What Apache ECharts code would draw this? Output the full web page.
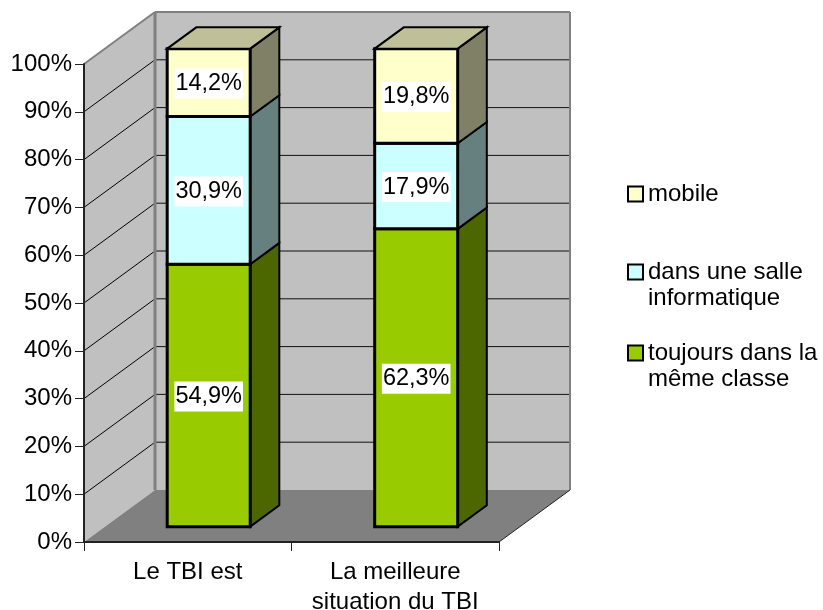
<!DOCTYPE html>
<html>
<head>
<meta charset="utf-8">
<script src="https://cdn.jsdelivr.net/npm/echarts@6/dist/echarts.min.js"></script>
<style>
  html, body { margin: 0; background: #fff; }
  #chart { width: 823px; height: 610px; }
</style>
</head>
<body>
<div id="chart"></div>
<script>
var categories = ['Le TBI est', 'La meilleure\nsituation du TBI']
var seriesNames = ['toujours dans la\nmême classe', 'dans une salle\ninformatique', 'mobile']
var toujours = [54.9, 62.3]
var salle = [30.9, 17.9]
var mobile = [14.2, 19.8]
var ticks = [0, 10, 20, 30, 40, 50, 60, 70, 80, 90, 100]

var FONT_SIZE = 24
var DEPTH = [71, -52] // profondeur du plancher en pixels
var BAR_W = 0.4 // largeur de barre / largeur de categorie
var BAR_D0 = 0.295 // debut de la barre dans la profondeur
var BAR_D1 = 0.705 // fin de la barre

var colors = [
  { front: '#99CC00', side: '#4C6600', top: '#80A000' },
  { front: '#CCFFFF', side: '#668080', top: '#A3CCCC' },
  { front: '#FFFFCC', side: '#808066', top: '#BFBF99' }
]

function poly(points, fill, stroke, lineWidth) {
  return {
    type: 'polygon',
    shape: { points: points },
    style: { fill: fill, stroke: stroke || null, lineWidth: lineWidth || 0, lineJoin: 'miter' }
  }
}

function line(x1, y1, x2, y2, color, w) {
  return {
    type: 'line',
    shape: { x1: x1, y1: y1, x2: x2, y2: y2 },
    style: { stroke: color, lineWidth: w }
  }
}

// murs et plancher
function renderWalls(params, api) {
  var c = params.coordSys
  var l = c.x
  var r = c.x + c.width
  var t = c.y
  var b = c.y + c.height
  var dx = DEPTH[0]
  var dy = DEPTH[1]
  var children = [
    poly([[l, b], [l, t], [l + dx, t + dy], [l + dx, b + dy]], '#C0C0C0'),
    poly([[l + dx, t + dy], [r + dx, t + dy], [r + dx, b + dy], [l + dx, b + dy]], '#C0C0C0'),
    poly([[l, b], [l + dx, b + dy], [r + dx, b + dy], [r, b]], '#808080')
  ]
  ticks.forEach(function(v) {
    if (v === 0 || v === 100) return
    var y = api.coord([0, v])[1]
    children.push(line(l, y, l + dx, y + dy, '#000', 1))
    children.push(line(l + dx, y + dy, r + dx, y + dy, '#111', 1))
  })
  children.push(line(l, t, l + dx, t + dy, '#808080', 2))
  children.push(line(l + dx, t + dy, r + dx, t + dy, '#808080', 2))
  children.push(line(r + dx, t + dy, r + dx, b + dy, '#808080', 2))
  children.push(line(l + dx, t + dy, l + dx, b + dy, '#808080', 3))
  children.push(line(r, b, r + dx, b + dy, '#222', 1))
  return { type: 'group', children: children }
}

// un bloc de barre 3D, un item par categorie
function renderBlock(params, api) {
  var idx = params.seriesIndex - 1
  var color = colors[idx]
  var band = api.size([1, 0])[0]
  var low = api.coord([api.value(0), api.value(1)])
  var high = api.coord([api.value(0), api.value(2)])
  var w = band * BAR_W
  var fx = low[0] - w / 2 + DEPTH[0] * BAR_D0
  var ox = DEPTH[0] * (BAR_D1 - BAR_D0)
  var oy = DEPTH[1] * (BAR_D1 - BAR_D0)
  var y0 = low[1] + DEPTH[1] * BAR_D0
  var y1 = high[1] + DEPTH[1] * BAR_D0
  var stroke = '#000'
  var children = [
    poly([[fx + w, y0], [fx + w + ox, y0 + oy], [fx + w + ox, y1 + oy], [fx + w, y1]], color.side, stroke, 2),
    poly([[fx, y0], [fx + w, y0], [fx + w, y1], [fx, y1]], color.front, stroke, 3)
  ]
  if (idx === 2) {
    children.push(poly([[fx, y1], [fx + ox, y1 + oy], [fx + w + ox, y1 + oy], [fx + w, y1]], color.top, stroke, 2))
  }
  children.push({
    type: 'text',
    style: {
      text: String(api.value(3)).replace('.', ',') + '%',
      x: fx + w / 2,
      y: (y0 + y1) / 2 + 1,
      align: 'center',
      verticalAlign: 'middle',
      font: '23.5px "Liberation Sans"',
      fill: '#000',
      backgroundColor: '#fff',
      padding: [3, 1, 3, 1]
    }
  })
  return { type: 'group', children: children }
}

function stacked(values, below) {
  return values.map(function(v, i) {
    var start = 0
    below.forEach(function(s) { start += s[i] })
    return [i, start, start + v, v]
  })
}

function legendFor(name, top, wrapped) {
  return {
    left: 627,
    top: top,
    padding: 0,
    data: [{ name: name, icon: 'rect' }],
    selectedMode: false,
    itemWidth: 15,
    itemHeight: 15,
    itemStyle: { borderColor: '#000', borderWidth: 2 },
    textStyle: { fontSize: FONT_SIZE, fontFamily: 'Liberation Sans', color: '#000', lineHeight: 26 },
    formatter: function(n) { return wrapped ? '\n' + n : n }
  }
}

function blockSeries(i, data) {
  return {
    type: 'custom',
    name: seriesNames[i],
    z: 3 + i,
    renderItem: renderBlock,
    itemStyle: { color: colors[i].front, borderColor: '#000', borderWidth: 2 },
    encode: { x: 0, y: [1, 2] },
    data: data
  }
}

var chart = echarts.init(document.getElementById('chart'))
chart.setOption({
  animation: false,
  backgroundColor: '#fff',
  grid: { left: 84, top: 64, width: 415, height: 478, outerBoundsMode: 'none' },
  legend: [
    legendFor(seriesNames[2], 181, false),
    legendFor(seriesNames[1], 233, true),
    legendFor(seriesNames[0], 314, true)
  ],
  xAxis: {
    type: 'category',
    data: categories,
    z: 5,
    axisLine: { lineStyle: { color: '#222', width: 2 } },
    axisTick: { show: true, alignWithLabel: false, length: 9, lineStyle: { color: '#222', width: 1 } },
    axisLabel: { color: '#000', fontFamily: 'Liberation Sans', fontSize: FONT_SIZE, lineHeight: 30, margin: 15, interval: 0 }
  },
  yAxis: {
    type: 'value',
    min: 0,
    max: 100,
    interval: 10,
    z: 5,
    splitLine: { show: false },
    axisLine: { show: true, lineStyle: { color: '#222', width: 2 } },
    axisTick: { show: true, length: 9, lineStyle: { color: '#222', width: 1 } },
    axisLabel: { color: '#000', fontFamily: 'Liberation Sans', fontSize: FONT_SIZE, margin: 12, padding: [2, 0, 0, 0], formatter: '{value}%' }
  },
  series: [
    {
      type: 'custom',
      z: 1,
      silent: true,
      renderItem: renderWalls,
      data: [[0, 0]]
    },
    blockSeries(0, stacked(toujours, [])),
    blockSeries(1, stacked(salle, [toujours])),
    blockSeries(2, stacked(mobile, [toujours, salle]))
  ]
})
</script>
</body>
</html>
